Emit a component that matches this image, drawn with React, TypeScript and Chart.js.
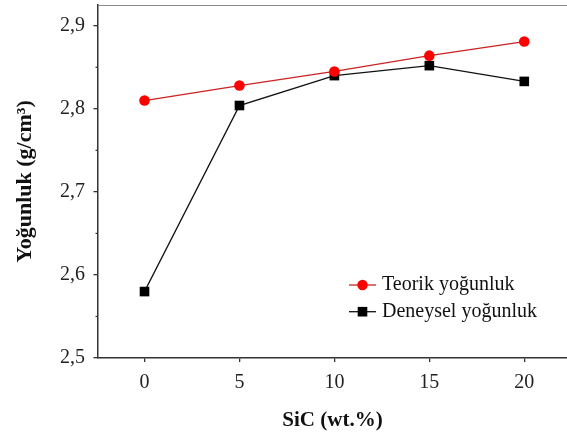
import React, { useEffect, useRef } from "react";
import { Chart, registerables } from "chart.js";

Chart.register(...registerables);

const sicValues = [0, 5, 10, 15, 20];
const teorik = [2.81, 2.828, 2.845, 2.864, 2.881];
const deneysel = [2.58, 2.804, 2.84, 2.852, 2.833];
const xTicks = [0, 5, 10, 15, 20];
const yTicks = [2.5, 2.6, 2.7, 2.8, 2.9];
const yMinorTicks = [2.55, 2.65, 2.75, 2.85];
const seriesNames = ["Teorik yoğunluk", "Deneysel yoğunluk"];

const SERIF = "'Liberation Serif', 'Times New Roman', serif";

export default function App() {
  const ref = useRef<HTMLCanvasElement | null>(null);

  useEffect(() => {
    const canvas = ref.current;
    if (!canvas) return;

    const extras = {
      id: "extras",
      afterDraw(chart: any) {
        const { ctx, chartArea } = chart;
        const ys = chart.scales.y;
        ctx.save();
        // top frame line
        ctx.strokeStyle = "#8a8a8a";
        ctx.lineWidth = 1.2;
        ctx.beginPath();
        ctx.moveTo(chartArea.left, chartArea.top + 0.5);
        ctx.lineTo(chartArea.right, chartArea.top + 0.5);
        ctx.stroke();
        // minor y ticks
        ctx.strokeStyle = "#333";
        ctx.lineWidth = 1.2;
        yMinorTicks.forEach((v) => {
          const y = ys.getPixelForValue(v);
          ctx.beginPath();
          ctx.moveTo(chartArea.left - 2.5, y);
          ctx.lineTo(chartArea.left, y);
          ctx.stroke();
        });
        // legend
        const lx0 = chartArea.left + 251;
        const lx1 = chartArea.left + 278;
        const mx = (lx0 + lx1) / 2;
        const tx = chartArea.left + 284;
        const rows = [chartArea.top + 280, chartArea.top + 306.7];
        ctx.font = `20px ${SERIF}`;
        ctx.textBaseline = "middle";
        ctx.textAlign = "left";
        // row 1
        ctx.strokeStyle = "#cc2222";
        ctx.lineWidth = 1.3;
        ctx.beginPath();
        ctx.moveTo(lx0, rows[0]);
        ctx.lineTo(lx1, rows[0]);
        ctx.stroke();
        ctx.fillStyle = "#ff0000";
        ctx.beginPath();
        ctx.arc(mx, rows[0], 5.2, 0, Math.PI * 2);
        ctx.fill();
        ctx.fillStyle = "#111";
        ctx.fillText(seriesNames[0], tx, rows[0]);
        // row 2
        ctx.strokeStyle = "#111";
        ctx.beginPath();
        ctx.moveTo(lx0, rows[1]);
        ctx.lineTo(lx1, rows[1]);
        ctx.stroke();
        ctx.fillStyle = "#000";
        ctx.fillRect(mx - 4.8, rows[1] - 4.8, 9.6, 9.6);
        ctx.fillStyle = "#111";
        ctx.fillText(seriesNames[1], tx, rows[1]);
        ctx.restore();
      },
    };

    const chart = new Chart(canvas, {
      type: "line",
      data: {
        labels: sicValues,
        datasets: [
          {
            label: seriesNames[0],
            data: sicValues.map((x, i) => ({ x, y: teorik[i] })),
            borderColor: "#cc2222",
            borderWidth: 1.3,
            backgroundColor: "#ff0000",
            pointBackgroundColor: "#ff0000",
            pointBorderColor: "#ff0000",
            pointBorderWidth: 0,
            pointStyle: "circle",
            pointRadius: 5.3,
            tension: 0,
          },
          {
            label: seriesNames[1],
            data: sicValues.map((x, i) => ({ x, y: deneysel[i] })),
            borderColor: "#111",
            borderWidth: 1.4,
            backgroundColor: "#000",
            pointBackgroundColor: "#000",
            pointBorderColor: "#000",
            pointBorderWidth: 0,
            pointStyle: "rect",
            pointRadius: 6.8,
            tension: 0,
          },
        ],
      },
      options: {
        responsive: false,
        animation: false,
        layout: { autoPadding: false, padding: { top: 5, left: 0, right: 0, bottom: 0 } },
        plugins: {
          legend: { display: false },
          tooltip: { enabled: false },
        },
        scales: {
          x: {
            type: "linear",
            min: -2.45,
            max: 22.25,
            afterBuildTicks: (scale: any) => {
              scale.ticks = xTicks.map((v) => ({ value: v }));
            },
            afterFit: (scale: any) => {
              scale.height = 77;
              scale.paddingLeft = 0;
              scale.paddingRight = 0;
              scale.paddingTop = 0;
              scale.paddingBottom = 0;
            },
            grid: {
              display: true,
              drawOnChartArea: false,
              drawTicks: true,
              tickLength: 4,
              color: "#333",
              lineWidth: 1.3,
            },
            border: { display: true, color: "#333", width: 1.5 },
            ticks: {
              padding: 9,
              maxRotation: 0,
              color: "#222",
              font: { family: SERIF, size: 20 },
              callback: (v: any) => String(v),
            },
            title: {
              display: true,
              text: "SiC (wt.%)",
              color: "#111",
              font: { family: SERIF, size: 21, weight: "bold" },
              padding: { top: 0, bottom: 2 },
            },
          },
          y: {
            type: "linear",
            min: 2.5,
            max: 2.925,
            afterBuildTicks: (scale: any) => {
              scale.ticks = yTicks.map((v) => ({ value: v }));
            },
            afterFit: (scale: any) => {
              scale.width = 98;
              scale.paddingLeft = 0;
              scale.paddingRight = 0;
              scale.paddingTop = 0;
              scale.paddingBottom = 0;
            },
            grid: {
              display: true,
              drawOnChartArea: false,
              drawTicks: true,
              tickLength: 4.5,
              color: "#333",
              lineWidth: 1.3,
            },
            border: { display: true, color: "#333", width: 1.5 },
            ticks: {
              padding: 8.5,
              color: "#222",
              font: { family: SERIF, size: 20 },
              callback: (v: any) => Number(v).toFixed(1).replace(".", ","),
            },
            title: {
              display: true,
              text: "Yoğunluk (g/cm³)",
              color: "#111",
              font: { family: SERIF, size: 22, weight: "bold" },
              padding: { top: 12, bottom: 0 },
            },
          },
        },
      },
      plugins: [extras],
    });

    return () => chart.destroy();
  }, []);

  return (
    <div style={{ position: "absolute", left: 0, top: 0, width: 567, height: 435, background: "#fff" }}>
      <canvas ref={ref} width={567} height={435} style={{ display: "block", width: 567, height: 435 }} />
    </div>
  );
}
